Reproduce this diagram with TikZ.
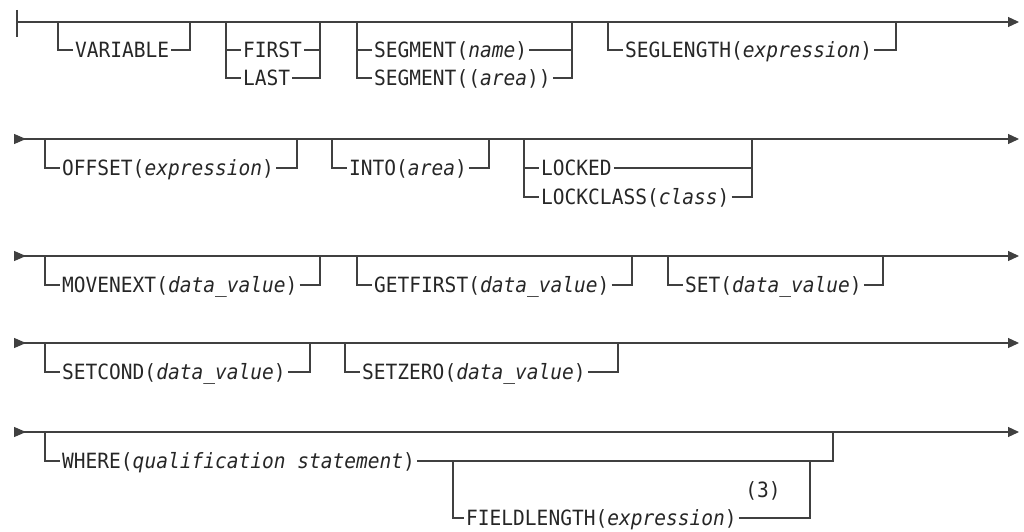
\documentclass[tikz,border=0pt]{standalone}
\usepackage{fontspec}
\setmonofont[FakeStretch=0.93]{DejaVu Sans Mono}
\usetikzlibrary{arrows.meta}

\begin{document}
\begin{tikzpicture}[x=1pt,y=-1pt,rail/.style={line width=1.2pt,draw=black!75},
  main/.style={rail,-{Triangle[length=11pt,width=10pt]}},
  cont/.style={rail,{Triangle[reversed,length=12pt,width=10pt]}-{Triangle[length=11pt,width=10pt]}},
  kw/.style={anchor=west,inner xsep=2pt,inner ysep=0pt,text height=15.2pt,text depth=0pt,font=\ttfamily\fontsize{21}{25}\selectfont,text=black!85}]
  \useasboundingbox (0,0) rectangle (1024,532);
  % first line
  \coordinate (start) at (17,22);
  \coordinate (end1) at (1019,22);
  \draw[rail] (17,10) -- (17,37);
  \draw[main] (start) -- (end1);
  \node[kw] (var) at (73,50) {VARIABLE};
  \coordinate (var-l) at (58,22); \coordinate (var-r) at (190,22);
  \draw[rail] (var-l) |- (var.west) (var.east) -| (var-r);
  \node[kw] (first) at (241,50) {FIRST};
  \node[kw] (last) at (241,78) {LAST};
  \coordinate (pos-l) at (226,22); \coordinate (pos-r) at (320,22);
  \draw[rail] (pos-l) |- (last.west) (pos-l |- first.west) -- (first.west)
    (first.east) -| (pos-r) (last.east) -| (pos-r);
  \node[kw] (segname) at (372,50) {SEGMENT(\textit{name})};
  \node[kw] (segarea) at (372,78) {SEGMENT((\textit{area}))};
  \coordinate (seg-l) at (357,22); \coordinate (seg-r) at (572,22);
  \draw[rail] (seg-l) |- (segarea.west) (seg-l |- segname.west) -- (segname.west)
    (segname.east) -| (seg-r) (segarea.east) -| (seg-r);
  \node[kw] (seglen) at (623,50) {SEGLENGTH(\textit{expression})};
  \coordinate (sl-l) at (608,22); \coordinate (sl-r) at (896,22);
  \draw[rail] (sl-l) |- (seglen.west) (seglen.east) -| (sl-r);
  % second line
  \coordinate (start2) at (14,139);
  \coordinate (end2) at (1019,139);
  \draw[cont] (start2) -- (end2);
  \node[kw] (offset) at (60,168) {OFFSET(\textit{expression})};
  \coordinate (off-l) at (45,139); \coordinate (off-r) at (297,139);
  \draw[rail] (off-l) |- (offset.west) (offset.east) -| (off-r);
  \node[kw] (into) at (347,168) {INTO(\textit{area})};
  \coordinate (into-l) at (332,139); \coordinate (into-r) at (489,139);
  \draw[rail] (into-l) |- (into.west) (into.east) -| (into-r);
  \node[kw] (locked) at (539,168) {LOCKED};
  \node[kw] (lockclass) at (539,197) {LOCKCLASS(\textit{class})};
  \coordinate (lock-l) at (524,139); \coordinate (lock-r) at (752,139);
  \draw[rail] (lock-l) |- (lockclass.west) (lock-l |- locked.west) -- (locked.west)
    (locked.east) -| (lock-r) (lockclass.east) -| (lock-r);
  % third line
  \coordinate (start3) at (14,256);
  \coordinate (end3) at (1019,256);
  \draw[cont] (start3) -- (end3);
  \node[kw] (movenext) at (60,285) {MOVENEXT(\textit{data\_value})};
  \coordinate (mn-l) at (45,256); \coordinate (mn-r) at (320,256);
  \draw[rail] (mn-l) |- (movenext.west) (movenext.east) -| (mn-r);
  \node[kw] (getfirst) at (372,285) {GETFIRST(\textit{data\_value})};
  \coordinate (gf-l) at (357,256); \coordinate (gf-r) at (632,256);
  \draw[rail] (gf-l) |- (getfirst.west) (getfirst.east) -| (gf-r);
  \node[kw] (set) at (683,285) {SET(\textit{data\_value})};
  \coordinate (set-l) at (668,256); \coordinate (set-r) at (883,256);
  \draw[rail] (set-l) |- (set.west) (set.east) -| (set-r);
  % fourth line
  \coordinate (start4) at (14,343);
  \coordinate (end4) at (1019,343);
  \draw[cont] (start4) -- (end4);
  \node[kw] (setcond) at (60,372) {SETCOND(\textit{data\_value})};
  \coordinate (sc-l) at (45,343); \coordinate (sc-r) at (310,343);
  \draw[rail] (sc-l) |- (setcond.west) (setcond.east) -| (sc-r);
  \node[kw] (setzero) at (360,372) {SETZERO(\textit{data\_value})};
  \coordinate (sz-l) at (345,343); \coordinate (sz-r) at (618,343);
  \draw[rail] (sz-l) |- (setzero.west) (setzero.east) -| (sz-r);
  % fifth line
  \coordinate (start5) at (14,432);
  \coordinate (end5) at (1019,432);
  \draw[cont] (start5) -- (end5);
  \node[kw] (where) at (60,461) {WHERE(\textit{qualification statement})};
  \coordinate (wh-l) at (45,432); \coordinate (wh-r) at (833,432);
  \draw[rail] (wh-l) |- (where.west) (where.east) -| (wh-r);
  \node[kw] (fieldlen) at (464,518) {FIELDLENGTH(\textit{expression})};
  \coordinate (fd-l) at (453,461); \coordinate (fd-r) at (810,461);
  \draw[rail] (fd-l) |- (fieldlen.west) (fieldlen.east) -| (fd-r);
  \node[kw,anchor=center] (note) at (763,490) {(3)};
\end{tikzpicture}
\end{document}
